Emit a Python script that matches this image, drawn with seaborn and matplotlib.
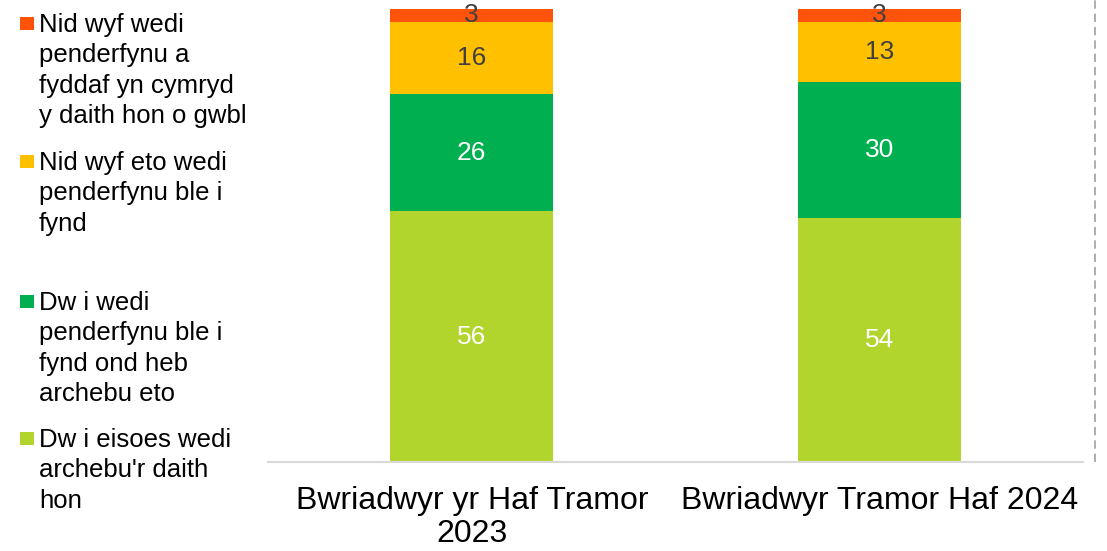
import numpy as np
import matplotlib
matplotlib.use("Agg")
import matplotlib.pyplot as plt
from matplotlib.patches import Rectangle
import seaborn as sns

# --- data (labels are the rounded values) ---
categories = ["Bwriadwyr yr Haf Tramor\n2023", "Bwriadwyr Tramor Haf 2024"]
series_names = [
    "Dw i eisoes wedi\narchebu'r daith\nhon",
    "Dw i wedi\npenderfynu ble i\nfynd ond heb\narchebu eto",
    "Nid wyf eto wedi\npenderfynu ble i\nfynd",
    "Nid wyf wedi\npenderfynu a\nfyddaf yn cymryd\ny daith hon o gwbl",
]
booked = [55.8, 54.3]
decided_not_booked = [26.0, 30.3]
not_decided_where = [16.1, 13.3]
not_decided_if = [3.0, 3.0]

series_values = [booked, decided_not_booked, not_decided_where, not_decided_if]
colors = ["#B2D52E", "#00B050", "#FFC000", "#FF5309"]
label_colors = ["white", "white", "#404040", "#404040"]

sns.set_style("white")
plt.rcParams["font.family"] = ["Liberation Sans", "DejaVu Sans"]

fig = plt.figure(figsize=(11.07, 5.51), dpi=100)
ax = fig.add_axes([268 / 1107, 89 / 551, 815 / 1107, 462 / 551])

# stacked bars: draw cumulative totals from the top layer down
cum = np.cumsum(np.array(series_values), axis=0)
for i in range(len(series_values) - 1, -1, -1):
    sns.barplot(x=categories, y=cum[i], color=colors[i], saturation=1,
                width=0.4, errorbar=None, linewidth=0, ax=ax, zorder=2)

# segment labels
for i, vals in enumerate(series_values):
    bottoms = cum[i] - np.array(vals)
    for j, v in enumerate(vals):
        ax.text(j, bottoms[j] + v / 2, f"{v:.0f}", ha="center", va="center",
                fontsize=19, color=label_colors[i], zorder=3)

ax.set_xlim(-0.5, 1.5)
ax.set_ylim(0, 102.8)
ax.set_yticks([])
for s in ["top", "right", "left"]:
    ax.spines[s].set_visible(False)
ax.spines["bottom"].set_color("#D9D9D9")
ax.spines["bottom"].set_linewidth(1.5)
ax.tick_params(axis="x", length=0, pad=17, labelsize=23, labelcolor="black")
for t in ax.get_xticklabels():
    t.set_linespacing(1.15)
ax.set_xlabel("")
ax.set_ylabel("")

# dashed border line on the right
ax.plot([1.0147, 1.0147], [0, 1], transform=ax.transAxes, clip_on=False,
        color="#A0A0A0", lw=1.2, ls=(0, (5, 3)))

# legend (top entry = top of stack)
W, H = 1107, 551
tops = [13, 151, 291, 428]
order = [3, 2, 1, 0]
for top, k in zip(tops, order):
    fig.patches.append(Rectangle((20 / W, 1 - (top + 17) / H), 14 / W, 13 / H,
                                 transform=fig.transFigure, facecolor=colors[k],
                                 edgecolor="none"))
    fig.text(39 / W, 1 - top / H, series_names[k], ha="left", va="top",
             fontsize=18.5, color="#000000", linespacing=1.33)

fig.savefig("out.png", dpi=100)
